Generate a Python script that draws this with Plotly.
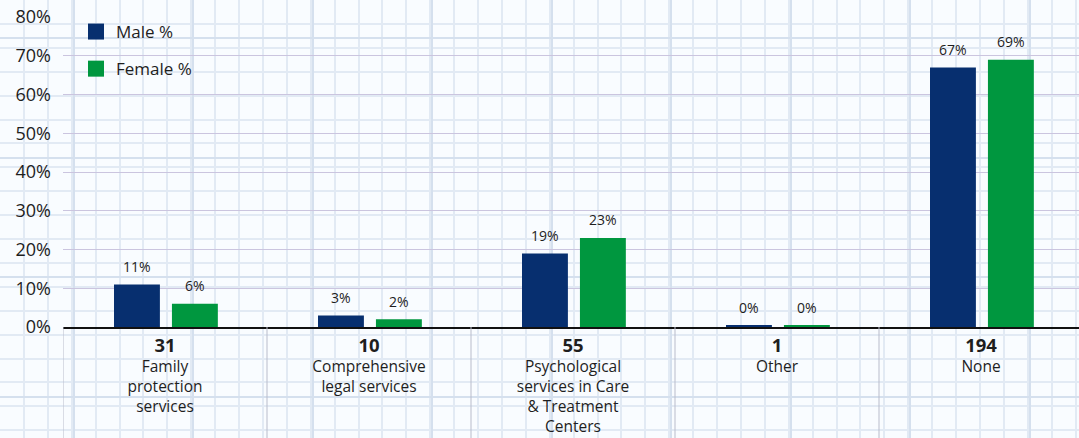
import plotly.graph_objects as go

# --- data -------------------------------------------------------------
categories = [
    "Family<br>protection<br>services",
    "Comprehensive<br>legal services",
    "Psychological<br>services in Care<br>& Treatment<br>Centers",
    "Other",
    "None",
]
respondents = [31, 10, 55, 1, 194]
male_pct = [11, 3, 19, 0.4, 67]
female_pct = [6, 2, 23, 0.4, 69]
y_ticks = [0, 10, 20, 30, 40, 50, 60, 70, 80]

# --- styling ----------------------------------------------------------
W, H = 1079, 438
NAVY = "#072f6f"
GREEN = "#00973f"
TEXT = "#1e1e1e"
FONT = "Open Sans"

BAR_W = 0.225
MALE_OFF = -0.25
FEMALE_OFF = 0.034

# plot box of the chart, in pixels
left_px, top_px, bottom_px = 63, 17, 327
cat_px = 204
x_dom = [left_px / W, 1]
y_dom = [(H - bottom_px) / H, (H - top_px) / H]
x_max = -0.5 + (W - left_px) / cat_px

idx = list(range(len(categories)))
tick_text = [f"<b><span style='font-size:18.5px'>{n}</span></b><br>{c}"
             for n, c in zip(respondents, categories)]

fig = go.Figure()

# graph-paper backdrop drawn by a full-page pair of axes
fig.add_trace(go.Scatter(x=[None], y=[None], xaxis="x", yaxis="y",
                         showlegend=False, hoverinfo="skip"))

fig.add_trace(go.Bar(
    x=idx, y=male_pct, xaxis="x2", yaxis="y2", name="Male %",
    marker=dict(color=NAVY, line=dict(width=0)),
    width=BAR_W, offset=MALE_OFF, showlegend=False,
))
fig.add_trace(go.Bar(
    x=idx, y=female_pct, xaxis="x2", yaxis="y2", name="Female %",
    marker=dict(color=GREEN, line=dict(width=0)),
    width=BAR_W, offset=FEMALE_OFF, showlegend=False,
))

# legend swatches
for name, col, grp in [("Male %", NAVY, "m"), ("Female %", GREEN, "f")]:
    fig.add_trace(go.Scatter(
        x=[None], y=[None], xaxis="x2", yaxis="y2", mode="markers",
        name=name, legendgroup=grp,
        marker=dict(symbol="square", size=16, color=col),
    ))

# value labels above bars
annotations = []
for vals, off in [(male_pct, MALE_OFF), (female_pct, FEMALE_OFF)]:
    for i, v in zip(idx, vals):
        annotations.append(dict(
            x=i + off + BAR_W / 2, y=v, xref="x2", yref="y2",
            text=f"{v:.0f}%", showarrow=False, yanchor="middle", yshift=18,
            font=dict(family=FONT, size=14, color=TEXT),
        ))

# category separators below the baseline
shapes = []
for i in range(len(categories) + 1):
    shapes.append(dict(
        type="line", xref="x2", yref="paper",
        x0=i - 0.5, x1=i - 0.5, y0=0, y1=y_dom[0],
        line=dict(color="#b9bccb", width=1), layer="above",
    ))

paper_axis = dict(
    domain=[0, 1], showticklabels=False, ticks="", automargin=False,
    showgrid=True, gridcolor="#d5e0ee", gridwidth=2.4,
    dtick=119.5, zeroline=False, fixedrange=True,
    minor=dict(dtick=23.9, showgrid=True, gridcolor="#e2eaf4", gridwidth=2),
)

fig.update_layout(
    template="none",
    width=W, height=H,
    margin=dict(l=0, r=0, t=0, b=0, autoexpand=False),
    paper_bgcolor="#f9fcff",
    plot_bgcolor="rgba(0,0,0,0)",
    font=dict(family=FONT, color=TEXT),
    barmode="overlay",
    showlegend=True,
    hovermode=False,
    legend=dict(
        x=76 / W, y=1 - 14 / H, xanchor="left", yanchor="top",
        bgcolor="rgba(0,0,0,0)", font=dict(family=FONT, size=17, color=TEXT),
        tracegroupgap=12, itemclick=False, itemdoubleclick=False,
    ),
    xaxis=dict(paper_axis, range=[0, W], tick0=432),
    yaxis=dict(paper_axis, range=[H, 0], tick0=38),
    xaxis2=dict(
        domain=x_dom, anchor="y2", range=[-0.5, x_max], automargin=False,
        tickmode="array", tickvals=idx, ticktext=tick_text,
        showgrid=False, zeroline=False, ticks="",
        showline=True, linecolor="#111111", linewidth=2.2,
        tickfont=dict(family=FONT, size=15.5, color=TEXT),
        ticklabelstandoff=4,
    ),
    yaxis2=dict(
        domain=y_dom, anchor="x2", range=[0, 80], automargin=False,
        tickmode="array", tickvals=y_ticks,
        ticktext=[f"{t}%" for t in y_ticks],
        showgrid=True, gridcolor="#cbc5df", gridwidth=1.3,
        zeroline=False, showline=False, ticks="",
        tickfont=dict(family=FONT, size=18, color=TEXT),
        ticklabelstandoff=11,
    ),
    annotations=annotations,
    shapes=shapes,
)

fig.write_html("out.html")
